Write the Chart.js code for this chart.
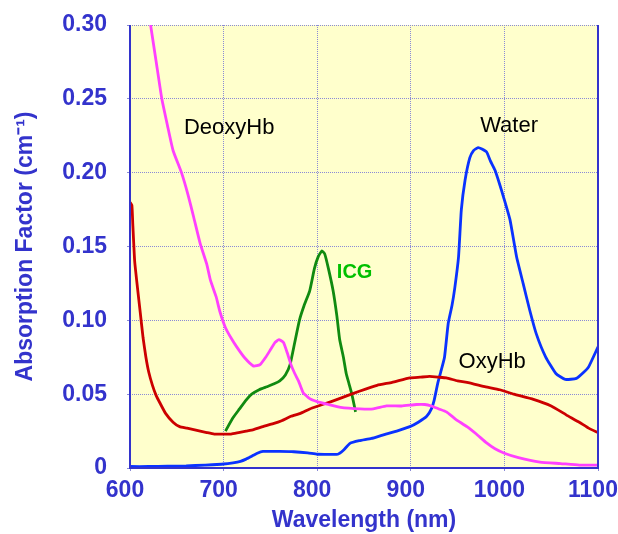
<!DOCTYPE html>
<html>
<head>
<meta charset="utf-8">
<script src="https://cdn.jsdelivr.net/npm/chart.js@4"></script>
<style>
  html, body { margin: 0; padding: 0; background: #fff; }
  #wrap { width: 618px; height: 534px; }
</style>
</head>
<body>
<div id="wrap"><canvas id="myPlot"></canvas></div>
<script>
// wavelength (nm) / absorption factor (cm-1)
const deoxyWl  = [622, 628, 634, 640, 646, 655, 662, 668, 675, 682, 686, 692, 696, 702, 708, 714, 722, 732, 739, 745, 750, 755, 759, 764, 768, 772, 776, 780, 785, 792, 800, 812, 825, 846, 860, 874, 890, 906, 915, 922, 930, 938, 948, 960, 970, 981, 990, 1000, 1015, 1038, 1060, 1080, 1100];
const deoxyVal = [0.300, 0.275, 0.250, 0.232, 0.215, 0.200, 0.185, 0.170, 0.152, 0.138, 0.127, 0.116, 0.106, 0.095, 0.088, 0.082, 0.075, 0.069, 0.070, 0.075, 0.080, 0.085, 0.087, 0.085, 0.078, 0.070, 0.064, 0.059, 0.051, 0.047, 0.045, 0.043, 0.041, 0.040, 0.040, 0.042, 0.042, 0.043, 0.043, 0.042, 0.040, 0.038, 0.033, 0.028, 0.023, 0.017, 0.013, 0.010, 0.007, 0.004, 0.003, 0.002, 0.002];

const oxyWl  = [600, 602, 603, 605, 608, 611, 614, 617, 620, 624, 628, 632, 638, 646, 653, 661, 668, 675, 682, 690, 700, 708, 716, 724, 732, 742, 753, 762, 772, 782, 792, 801, 815, 828, 845, 864, 880, 899, 910, 920, 930, 938, 950, 960, 980, 995, 1010, 1031, 1050, 1066, 1080, 1090, 1100];
const oxyVal = [0.180, 0.178, 0.165, 0.140, 0.122, 0.105, 0.088, 0.075, 0.065, 0.056, 0.049, 0.044, 0.037, 0.031, 0.028, 0.027, 0.026, 0.025, 0.024, 0.023, 0.023, 0.023, 0.024, 0.025, 0.026, 0.028, 0.030, 0.032, 0.035, 0.037, 0.040, 0.042, 0.045, 0.048, 0.052, 0.056, 0.058, 0.061, 0.0615, 0.062, 0.0615, 0.061, 0.059, 0.058, 0.055, 0.053, 0.050, 0.0465, 0.042, 0.036, 0.031, 0.027, 0.024];

const waterWl  = [600, 620, 640, 660, 680, 700, 710, 718, 724, 730, 736, 742, 760, 775, 790, 800, 812, 822, 828, 835, 845, 858, 870, 885, 899, 908, 917, 922, 925, 929, 932, 936, 940, 944, 947, 951, 954, 958, 963, 967, 972, 976, 981, 985, 990, 995, 999, 1006, 1013, 1020, 1027, 1034, 1044, 1055, 1065, 1077, 1085, 1090, 1100];
const waterVal = [0.001, 0.001, 0.0012, 0.0014, 0.002, 0.0027, 0.0035, 0.0045, 0.006, 0.008, 0.010, 0.0112, 0.0112, 0.011, 0.0102, 0.0093, 0.0092, 0.0093, 0.012, 0.0167, 0.0185, 0.020, 0.0223, 0.025, 0.028, 0.031, 0.035, 0.040, 0.046, 0.058, 0.065, 0.075, 0.098, 0.110, 0.122, 0.143, 0.175, 0.195, 0.210, 0.215, 0.217, 0.216, 0.214, 0.208, 0.2016, 0.192, 0.1836, 0.168, 0.143, 0.125, 0.107, 0.091, 0.0753, 0.064, 0.060, 0.0607, 0.065, 0.0685, 0.082];

const icgWl  = [702, 710, 717, 724, 730, 738, 746, 754, 760, 766, 771, 776, 781, 786, 792, 797, 801, 805, 808, 812, 817, 821, 824, 828, 831, 834, 837, 841];
const icgVal = [0.025, 0.034, 0.040, 0.046, 0.050, 0.053, 0.055, 0.057, 0.059, 0.063, 0.070, 0.085, 0.100, 0.110, 0.120, 0.135, 0.143, 0.147, 0.145, 0.135, 0.120, 0.103, 0.087, 0.075, 0.064, 0.057, 0.050, 0.038];

// curve names written inside the plot, anchored in data units
const curveNames = ['DeoxyHb', 'Water', 'OxyHb', 'ICG'];
const nameWl     = [706, 1005, 987, 840];
const nameVal    = [0.230, 0.2315, 0.0715, 0.1326];

const xTicks = [600, 700, 800, 900, 1000, 1100];

const axisBlue = '#3333cc';
const gridBlue = '#8a8ad6';

function pts(wl, val) {
    return wl.map((w, i) => ({ x: w, y: val[i] }));
}

const plotBackground = {
    id: 'plotBackground',
    beforeDraw(chart) {
        const { ctx, chartArea: a } = chart;
        ctx.save();
        ctx.fillStyle = '#ffffcc';
        ctx.fillRect(a.left, a.top, a.right - a.left, a.bottom - a.top);
        ctx.restore();
    }
};

const frameAndNames = {
    id: 'frameAndNames',
    afterDatasetsDraw(chart) {
        const { ctx, chartArea: a, scales } = chart;
        ctx.save();
        ctx.strokeStyle = axisBlue;
        ctx.lineWidth = 2;
        ctx.beginPath();
        ctx.moveTo(a.left, a.top);
        ctx.lineTo(a.left, a.bottom);
        ctx.lineTo(a.right, a.bottom);
        ctx.lineTo(a.right, a.top);
        ctx.stroke();

        ctx.textAlign = 'center';
        ctx.textBaseline = 'middle';
        curveNames.forEach((name, i) => {
            const isIcg = name === 'ICG';
            ctx.font = isIcg ? 'bold 20px "Liberation Sans", Arial, sans-serif'
                             : '22px "Liberation Sans", Arial, sans-serif';
            ctx.fillStyle = isIcg ? '#00c000' : '#000';
            ctx.fillText(name, scales.x.getPixelForValue(nameWl[i]), scales.y.getPixelForValue(nameVal[i]));
        });
        ctx.restore();
    }
};

const tickFont = { family: '"Liberation Sans", Arial, sans-serif', weight: 'bold', size: 23 };

new Chart(document.getElementById('myPlot'), {
    type: 'line',
    data: {
        datasets: [{
            label: 'DeoxyHb',
            data: pts(deoxyWl, deoxyVal),
            borderColor: '#ff40ff',
        }, {
            label: 'OxyHb',
            data: pts(oxyWl, oxyVal),
            borderColor: '#cc0000',
        }, {
            label: 'Water',
            data: pts(waterWl, waterVal),
            borderColor: '#0a32ff',
        }, {
            label: 'ICG',
            data: pts(icgWl, icgVal),
            borderColor: '#108a10',
        }]
    },
    options: {
        animation: false,
        responsive: true,
        maintainAspectRatio: false,
        layout: { padding: { top: 25, left: 0, right: 0, bottom: 0 } },
        elements: {
            point: { radius: 0 },
            line: { borderWidth: 2.8, tension: 0.15, fill: false }
        },
        plugins: {
            legend: { display: false },
            tooltip: { enabled: false }
        },
        scales: {
            x: {
                type: 'linear',
                min: 600,
                max: 1100,
                afterBuildTicks: (scale) => { scale.ticks = xTicks.map(v => ({ value: v })); },
                afterFit: (scale) => {
                    scale.height = 66;
                    scale.paddingLeft = 0;
                    scale.paddingRight = 20;
                },
                title: {
                    display: true,
                    text: 'Wavelength (nm)',
                    color: axisBlue,
                    font: tickFont,
                    padding: 0
                },
                ticks: {
                    color: axisBlue,
                    font: tickFont,
                    padding: 6,
                    labelOffset: -5,
                    maxRotation: 0,
                    autoSkip: false,
                    callback: (v) => String(v)
                },
                grid: {
                    color: gridBlue,
                    lineWidth: 1,
                    tickLength: 3
                },
                border: { display: false, dash: [1, 1] }
            },
            y: {
                min: 0,
                max: 0.3,
                afterFit: (scale) => {
                    scale.width = 130;
                    scale.paddingTop = 0;
                    scale.paddingBottom = 0;
                },
                title: {
                    display: true,
                    text: 'Absorption Factor (cm⁻¹)',
                    color: axisBlue,
                    font: tickFont,
                    padding: { top: 12, bottom: 0 }
                },
                ticks: {
                    stepSize: 0.05,
                    color: axisBlue,
                    font: tickFont,
                    padding: 20,
                    callback: (v) => v === 0 ? '0' : v.toFixed(2)
                },
                grid: {
                    color: gridBlue,
                    lineWidth: 1,
                    tickLength: 3
                },
                border: { display: false, dash: [1, 1] }
            }
        }
    },
    plugins: [plotBackground, frameAndNames]
});
</script>
</body>
</html>
